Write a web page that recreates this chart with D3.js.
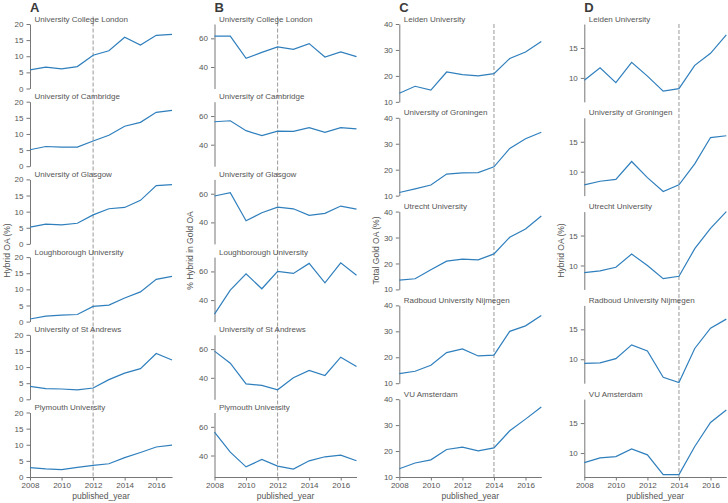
<!DOCTYPE html>
<html>
<head>
<meta charset="utf-8">
<script src="https://cdn.jsdelivr.net/npm/d3@7/dist/d3.min.js"></script>
<style>
body { margin: 0; background: #fff; }
svg { font-family: "Liberation Sans", Arial, sans-serif; }
</style>
</head>
<body>
<div id="main"></div>
<script>
// data
var years = [2008, 2009, 2010, 2011, 2012, 2013, 2014, 2015, 2016, 2017];
var yearTicks = [2008, 2010, 2012, 2014, 2016];

var ukUnis = ["University College London", "University of Cambridge", "University of Glasgow",
              "Loughborough University", "University of St Andrews", "Plymouth University"];
var nlUnis = ["Leiden University", "University of Groningen", "Utrecht University",
              "Radboud University Nijmegen", "VU Amsterdam"];

// A: hybrid OA (%) UK
var ukHybrid = [
    [5.8, 6.6, 6.1, 6.8, 10.3, 11.7, 15.9, 13.5, 16.5, 16.8],
    [5.1, 6.1, 5.9, 5.9, 7.8, 9.6, 12.4, 13.6, 16.7, 17.3],
    [5.2, 6.1, 5.9, 6.4, 9.0, 10.9, 11.3, 13.5, 18.1, 18.4],
    [0.8, 1.7, 2.0, 2.2, 4.7, 5.1, 7.3, 9.2, 13.1, 14.0],
    [4.0, 3.3, 3.2, 2.9, 3.5, 6.1, 8.1, 9.5, 14.2, 12.2],
    [2.9, 2.5, 2.3, 3.0, 3.6, 4.1, 6.0, 7.6, 9.3, 9.9]
];
// B: % hybrid in gold OA UK
var ukHybridInGold = [
    [61.6, 61.6, 46.0, 50.2, 54.0, 52.3, 56.3, 47.0, 50.5, 47.2],
    [56.0, 56.7, 49.8, 46.3, 49.5, 49.3, 51.9, 48.6, 51.9, 51.0],
    [58.4, 60.7, 41.2, 46.7, 50.7, 49.5, 44.9, 46.3, 51.4, 49.3],
    [30.2, 47.0, 58.4, 47.9, 60.0, 58.6, 65.6, 52.1, 66.0, 57.4],
    [58.6, 50.2, 35.8, 34.7, 31.6, 40.0, 45.1, 41.6, 54.4, 47.9],
    [56.3, 42.3, 32.1, 37.2, 32.6, 30.5, 36.3, 39.1, 40.2, 36.3]
];
// C: total gold OA (%) NL
var nlTotalGold = [
    [13.3, 16.0, 14.5, 21.5, 20.5, 20.0, 20.9, 26.7, 29.2, 33.3],
    [11.2, 12.6, 14.1, 18.3, 18.8, 18.9, 21.1, 28.2, 31.9, 34.4],
    [13.6, 14.1, 17.6, 20.9, 21.7, 21.4, 23.7, 30.1, 33.3, 38.3],
    [13.7, 14.6, 16.9, 21.8, 23.2, 20.5, 20.8, 30.0, 32.1, 36.1],
    [13.2, 15.4, 16.6, 20.6, 21.5, 20.1, 21.2, 27.8, 32.3, 37.0]
];
// D: hybrid OA (%) NL
var nlHybrid = [
    [9.6, 11.7, 9.2, 12.6, 10.3, 7.8, 8.2, 12.1, 14.1, 17.2],
    [7.8, 8.4, 8.7, 11.7, 9.0, 6.7, 7.8, 11.3, 15.7, 16.0],
    [8.8, 9.1, 9.7, 11.9, 10.0, 7.8, 8.2, 12.8, 16.2, 19.0],
    [9.3, 9.4, 10.1, 12.4, 11.4, 7.0, 6.1, 11.8, 15.2, 16.7],
    [8.4, 9.2, 9.4, 10.7, 9.7, 6.4, 6.4, 11.1, 15.1, 17.2]
];

var panels = [
    {letter: "A", left: 30,    names: ukUnis, values: ukHybrid,       domain: [0, 20],  ticks: [0, 5, 10, 15, 20], label: "Hybrid OA (%)",       labelX: 7,   cut: 2012, dashTop: 16.5},
    {letter: "B", left: 214.5, names: ukUnis, values: ukHybridInGold, domain: [25, 70], ticks: [40, 60],           label: "% Hybrid in Gold OA", labelX: 190, cut: 2012, dashTop: 16.5},
    {letter: "C", left: 399.3, names: nlUnis, values: nlTotalGold,    domain: [10, 40], ticks: [10, 20, 30, 40],   label: "Total Gold OA (%)",   labelX: 376, cut: 2014, dashTop: 24},
    {letter: "D", left: 584.3, names: nlUnis, values: nlHybrid,       domain: [6, 19],  ticks: [10, 15],           label: "Hybrid OA (%)",       labelX: 561, cut: 2014, dashTop: 24}
];

var plotTop = 24, plotBottom = 477, plotWidth = 142;
var lineColor = "#2f7fbd", textColor = "#555", axisColor = "#777";

var svg = d3.select("#main").append("svg")
    .attr("width", 728)
    .attr("height", 503);

function styleAxis(g) {
    g.attr("font-size", 8).attr("font-family", null);
    g.selectAll("path, line").attr("stroke", axisColor);
    g.selectAll("text").attr("fill", textColor);
}

panels.forEach(function(p) {
    var x = d3.scaleLinear().domain([2008, 2017]).range([p.left, p.left + plotWidth]);

    // rows of small multiples
    var rows = d3.scaleBand()
        .domain(p.names)
        .range([plotTop, plotBottom])
        .paddingInner(0.17);

    var g = svg.append("g");

    // panel letter
    g.append("text")
        .attr("x", p.left)
        .attr("y", 12)
        .attr("font-size", 13)
        .attr("font-weight", "bold")
        .attr("fill", "#3a3a3a")
        .text(p.letter);

    // dashed reference year
    g.append("line")
        .attr("x1", x(p.cut)).attr("x2", x(p.cut))
        .attr("y1", p.dashTop).attr("y2", plotBottom)
        .attr("stroke", "#999")
        .attr("stroke-width", 1)
        .attr("stroke-dasharray", "4,2");

    p.names.forEach(function(name, i) {
        var y0 = rows(name);
        var y = d3.scaleLinear().domain(p.domain).range([y0 + rows.bandwidth(), y0]);

        g.append("g")
            .attr("transform", "translate(" + p.left + ",0)")
            .call(d3.axisLeft(y).tickValues(p.ticks).tickSize(3.5).tickSizeOuter(0).tickPadding(3))
            .call(styleAxis);

        g.append("text")
            .attr("x", p.left + 4.5)
            .attr("y", y0 - 2.5)
            .attr("font-size", 8)
            .attr("fill", textColor)
            .text(name);

        var line = d3.line()
            .x(function(d, j) { return x(years[j]); })
            .y(function(d) { return y(d); });

        g.append("path")
            .datum(p.values[i])
            .attr("d", line)
            .attr("fill", "none")
            .attr("stroke", lineColor)
            .attr("stroke-width", 1.2);

        // x axis only under the last row
        if (i === p.names.length - 1) {
            g.append("g")
                .attr("transform", "translate(0," + plotBottom + ")")
                .call(d3.axisBottom(x).tickValues(yearTicks).tickFormat(d3.format("d"))
                    .tickSize(3.5).tickSizeOuter(0).tickPadding(2))
                .call(styleAxis);
        }
    });

    g.append("text")
        .attr("x", p.left + plotWidth / 2)
        .attr("y", 499)
        .attr("text-anchor", "middle")
        .attr("font-size", 8.5)
        .attr("fill", textColor)
        .text("published_year");

    g.append("text")
        .attr("transform", "translate(" + p.labelX + "," + (plotTop + plotBottom) / 2 + ") rotate(-90)")
        .attr("dy", "0.35em")
        .attr("text-anchor", "middle")
        .attr("font-size", 8.5)
        .attr("fill", textColor)
        .text(p.label);
});
</script>
</body>
</html>
